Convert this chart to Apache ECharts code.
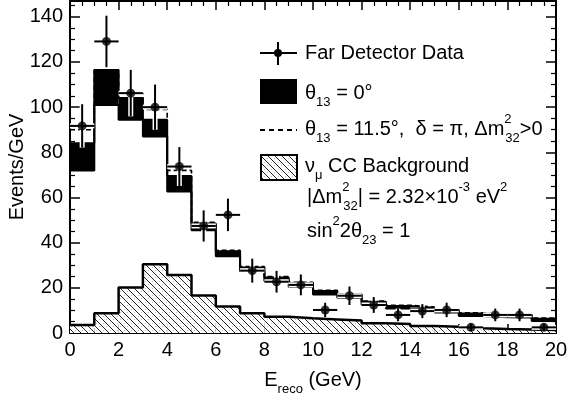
<!DOCTYPE html>
<html><head><meta charset="utf-8">
<script src="https://cdn.jsdelivr.net/npm/echarts@6/dist/echarts.min.js"></script>
<style>html,body{margin:0;padding:0;background:#fff}#c{width:567px;height:398px}</style>
</head><body><div id="c"></div>
<script>
// ---- data (GeV bins of width 1) ----
const binLow = [0,1,2,3,4,5,6,7,8,9,10,11,12,13,14,15,16,17,18,19];
const binWidth = 1;
const dataY   = [91.7,129.1,106.2,100.0,73.7,47.4,52.3,27.6,22.7,21.3,10.2,16.5,12.4,8.0,9.7,10.2,2.5,8.0,8.0,2.5];
const dataErr = [9.6,11.4,10.3,10.0,8.6,6.9,7.2,5.3,4.8,4.6,3.2,4.1,3.5,2.8,3.1,3.2,1.6,2.8,2.8,1.6];
const bkg     = [3.5,8.7,20.2,30.4,25.7,16.6,11.7,8.7,7.2,6.5,6.0,5.5,4.3,4.0,3.1,2.8,2.1,1.8,1.6,1.3];
const bandLo  = [72,101,94.4,87,62.6,45.5,34,27.3,23,20.5,17,15.6,12.5,10.8,10,9.1,7.5,7,6.9,5.3];
const bandHi  = [84,116.5,104,94.4,69.5,48.5,36.2,29,24.6,22,18.6,17.2,13.8,12,11.2,10.3,8.6,8,8,6.3];
const dashed  = [90,116.5,106,99,72,49,36.6,29.4,25,22.4,18.9,17.4,14.2,12.3,11.5,10.6,8.9,8.3,8.2,6.6];
const xTicks = {min:0, max:20, interval:2};
const yTicks = {min:0, max:147, interval:20};

const FONT = "'Liberation Sans', Arial, Helvetica, sans-serif";
const FS = 20;

// hatch pattern
function makeHatch(){
  const c = document.createElement('canvas'); c.width = 7; c.height = 7;
  const g = c.getContext('2d');
  g.fillStyle = '#fff'; g.fillRect(0,0,7,7);
  g.strokeStyle = '#222'; g.lineWidth = 1;
  g.beginPath(); g.moveTo(0,0); g.lineTo(7,7); g.moveTo(-1,6); g.lineTo(1,8); g.moveTo(6,-1); g.lineTo(8,1); g.stroke();
  g.fillStyle = '#bbb'; g.fillRect(5,1,1,1); g.fillRect(1,4,1,1);
  return c;
}
const hatch = makeHatch();

function stepData(vals){
  const d = binLow.map((x,i)=>[x, vals[i]]);
  d.push([binLow[binLow.length-1]+binWidth, vals[vals.length-1]]);
  return d;
}
function rectSeries(lo, hi, fill, z){
  return {
    type:'custom', z:z, silent:true,
    data: binLow.map((x,i)=>[x, x+binWidth, lo[i], hi[i]]),
    encode:{x:[0,1], y:[2,3]},
    renderItem:function(p, api){
      const a = api.coord([api.value(0), api.value(3)]);
      const b = api.coord([api.value(1), api.value(2)]);
      return {type:'rect', shape:{x:a[0], y:a[1], width:b[0]-a[0], height:b[1]-a[1]}, style:{fill:fill}};
    }
  };
}
const zeros = binLow.map(()=>0);

const rich = {
  n:{fontSize:FS, fontFamily:FONT, color:'#000', lineHeight:32, verticalAlign:'middle'},
  sub:{fontSize:13, fontFamily:FONT, color:'#000', lineHeight:13, verticalAlign:'bottom'},
  sup:{fontSize:13, fontFamily:FONT, color:'#000', lineHeight:13, verticalAlign:'top'},
  sups:{fontSize:13, fontFamily:FONT, color:'#000', lineHeight:13, verticalAlign:'top', width:1}
};
function txt(x, y, s){
  return {type:'text', x:x, y:y, z:100, style:{text:s, rich:rich, verticalAlign:'middle', align:'left', font:FS+'px '+FONT, fill:'#000'}};
}

const chart = echarts.init(document.getElementById('c'), null, {renderer:'canvas'});
const axisCommonX = {
  type:'value', min:xTicks.min, max:xTicks.max, interval:xTicks.interval,
  axisLine:{show:true, onZero:false, lineStyle:{color:'#000', width:2}},
  axisTick:{show:true, inside:true, length:9, lineStyle:{color:'#000', width:1.5}},
  minorTick:{show:true, splitNumber:4, length:5, lineStyle:{color:'#000', width:1.2}},
  splitLine:{show:false}
};
const axisCommonY = {
  type:'value', min:yTicks.min, max:yTicks.max, interval:yTicks.interval,
  axisLine:{show:true, onZero:false, lineStyle:{color:'#000', width:2}},
  axisTick:{show:true, inside:true, length:10, lineStyle:{color:'#000', width:1.5}},
  minorTick:{show:true, splitNumber:4, length:5, lineStyle:{color:'#000', width:1.2}},
  splitLine:{show:false}
};

chart.setOption({
  animation:false,
  backgroundColor:'#fff',
  grid:{left:70, right:11, top:1, bottom:65, containLabel:false, outerBoundsMode:'none'},
  xAxis:[
    Object.assign({}, axisCommonX, {position:'bottom',
      axisLabel:{show:true, margin:7, fontSize:FS, fontFamily:FONT, color:'#000'},
      name:'{n|E}{sub|reco}{n| (GeV)}', nameLocation:'middle', nameGap:31, nameMoveOverlap:false,
      nameTextStyle:{rich:rich}}),
    Object.assign({}, axisCommonX, {position:'top', axisLabel:{show:false}})
  ],
  yAxis:[
    Object.assign({}, axisCommonY, {position:'left',
      axisLabel:{show:true, margin:7, fontSize:FS, fontFamily:FONT, color:'#000',
        formatter:function(v){return v>140?'':v;}},
      name:'Events/GeV', nameLocation:'middle', nameGap:43, nameMoveOverlap:false,
      nameTextStyle:{fontSize:FS, fontFamily:FONT, color:'#000'}}),
    Object.assign({}, axisCommonY, {position:'right', axisLabel:{show:false}})
  ],
  graphic:[
    {type:'line', z:100, shape:{x1:260,y1:53,x2:297,y2:53}, style:{stroke:'#000', lineWidth:2}},
    {type:'line', z:100, shape:{x1:278,y1:42,x2:278,y2:65}, style:{stroke:'#000', lineWidth:2}},
    {type:'circle', z:101, shape:{cx:278,cy:53,r:4}, style:{fill:'#000'}},
    txt(305, 53, '{n|Far Detector Data}'),
    {type:'rect', z:100, shape:{x:260,y:79,width:37,height:25}, style:{fill:'#000'}},
    txt(305, 93, '{n|θ}{sub|13}{n| = 0°}'),
    {type:'line', z:100, shape:{x1:260,y1:130,x2:297,y2:130}, style:{stroke:'#000', lineWidth:2, lineDash:[5,4]}},
    txt(305, 129, '{n|θ}{sub|13}{n| = 11.5°,  δ = π, Δm}{sups|2}{sub|32}{n|>0}'),
    {type:'rect', z:100, shape:{x:261,y:155,width:36,height:25}, style:{fill:{image:hatch, repeat:'repeat'}, stroke:'#000', lineWidth:2}},
    txt(305, 166, '{n|ν}{sub|μ}{n| CC Background}'),
    txt(307, 197, '{n||Δm}{sups|2}{sub|32}{n|| = 2.32×10}{sup|-3}{n| eV}{sup|2}'),
    txt(307, 231, '{n|sin}{sup|2}{n|2θ}{sub|23}{n| = 1}')
  ],
  series:[
    Object.assign(rectSeries(zeros, bkg, {image:hatch, repeat:'repeat'}, 1), {name:'bkgFill'}),
    {name:'bkgOutline', type:'line', step:'end', z:2, symbol:'none', silent:true,
      data:stepData(bkg), lineStyle:{color:'#000', width:2.5}},
    Object.assign(rectSeries(bandLo, bandHi, '#000', 3), {name:'band'}),
    {name:'bandHiLine', type:'line', step:'end', z:3, symbol:'none', silent:true,
      data:stepData(bandHi), lineStyle:{color:'#000', width:2}},
    {name:'bandLoLine', type:'line', step:'end', z:3, symbol:'none', silent:true,
      data:stepData(bandLo), lineStyle:{color:'#000', width:2}},
    {name:'dashed', type:'line', step:'end', z:4, symbol:'none', silent:true,
      data:stepData(dashed), lineStyle:{color:'#000', width:1.6, type:[5,3]}},
    {name:'errors', type:'custom', z:5, silent:true,
      data: binLow.map((x,i)=>[x+binWidth/2, dataY[i], dataErr[i]]),
      encode:{x:0, y:1},
      renderItem:function(p, api){
        const x = api.value(0), y = api.value(1), e = api.value(2);
        const t = api.coord([x, y+e]), b = api.coord([x, y-e]);
        const l = api.coord([x-binWidth/2, y]), r = api.coord([x+binWidth/2, y]);
        const seg = (p1,p2,w,c)=>({type:'line', shape:{x1:p1[0],y1:p1[1],x2:p2[0],y2:p2[1]}, style:{stroke:c, lineWidth:w}});
        return {type:'group', children:[
          seg(t,b,5,'#fff'), seg(l,r,5,'#fff'),
          seg(t,b,2,'#000'), seg(l,r,2,'#000')
        ]};
      }},
    {name:'Far Detector Data', type:'scatter', z:6, symbol:'circle', symbolSize:9,
      data: binLow.map((x,i)=>[x+binWidth/2, dataY[i]]),
      itemStyle:{color:'#000'}}
  ]
});
</script>
</body></html>
